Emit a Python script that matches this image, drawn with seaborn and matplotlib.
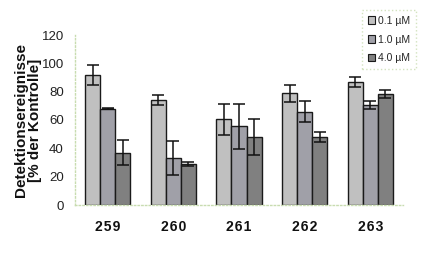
import matplotlib
matplotlib.use("Agg")
import matplotlib.pyplot as plt
import seaborn as sns
import pandas as pd
import numpy as np
from matplotlib.patches import Patch

categories = ["259", "260", "261", "262", "263"]
series = ["0.1 µM", "1.0 µM", "4.0 µM"]
vals_01 = [92, 74, 60.5, 79, 87]
vals_10 = [68, 33, 55.5, 66, 70.5]
vals_40 = [37, 29, 48, 48, 78.5]
err_01 = [7, 3.5, 11, 6, 3.5]
err_10 = [0.5, 12, 16, 7.5, 3]
err_40 = [9, 1.5, 13, 3.5, 3]
yticks = [0, 20, 40, 60, 80, 100, 120]
colors = ["#c0c0c0", "#a0a0a8", "#808080"]

rows = []
for s, v, e in zip(series, [vals_01, vals_10, vals_40], [err_01, err_10, err_40]):
    for c, vv, ee in zip(categories, v, e):
        rows.append({"cat": c, "series": s, "val": vv, "err": ee})
df = pd.DataFrame(rows)

sns.set_style("white")
plt.rcParams['font.family'] = ['Liberation Sans', 'DejaVu Sans']

fig = plt.figure(figsize=(4.25, 2.61), dpi=100)
ax = fig.add_axes([75/425, 56/261, 328/425, 170/261])

sns.barplot(data=df, x="cat", y="val", hue="series", order=categories,
            hue_order=series, palette=colors, width=0.69, errorbar=None,
            edgecolor="#1a1a1a", linewidth=1.0, saturation=1, ax=ax, legend=False)

for cont, s in zip(ax.containers, series):
    sub = df[df.series == s].set_index("cat").loc[categories]
    xs = [p.get_x() + p.get_width() / 2 for p in cont.patches]
    ax.errorbar(xs, sub["val"].values, yerr=sub["err"].values, fmt="none",
                ecolor="#111111", elinewidth=1.1, capsize=4.5, capthick=1.1, zorder=5)

ax.set_xlim(-0.5, 4.5)
ax.set_ylim(0, 120)
ax.set_yticks(yticks)
ax.set_yticklabels([str(t) for t in yticks], fontsize=9.5, color="#222222")
ax.set_xticks(range(len(categories)))
ax.set_xticklabels(["\u200a".join(c) for c in categories], fontsize=10,
                   fontweight="bold", color="#111111")
ax.tick_params(axis="x", length=0, pad=11)
ax.tick_params(axis="y", length=0, pad=8)
ax.set_xlabel("")
ax.set_ylabel("")

for side in ["top", "right"]:
    ax.spines[side].set_visible(False)
for side in ["left", "bottom"]:
    ax.spines[side].set_color("#c8dcb0")
    ax.spines[side].set_linestyle(":")
    ax.spines[side].set_linewidth(1.0)

fig.text(28/425, 1 - 120/261, "Detektionsereignisse\n[% der Kontrolle]", rotation=90,
         ha="center", va="center", fontsize=11, fontweight="bold",
         linespacing=1.0, color="#111111")

handles = [Patch(facecolor=c, edgecolor="#1a1a1a", linewidth=0.8) for c in colors]
leg = fig.legend(handles, series, loc="upper left",
                 bbox_to_anchor=(362/425, 1 - 10/261), bbox_transform=fig.transFigure,
                 fontsize=7.5, frameon=True, handlelength=0.7, handleheight=0.7,
                 handletextpad=0.3, labelspacing=0.85, borderpad=0.55, fancybox=False,
                 borderaxespad=0)
leg.get_frame().set_edgecolor("#c8dcb0")
leg.get_frame().set_linestyle(":")
leg.get_frame().set_linewidth(1.0)

fig.savefig("out.png", dpi=100, facecolor="white")
